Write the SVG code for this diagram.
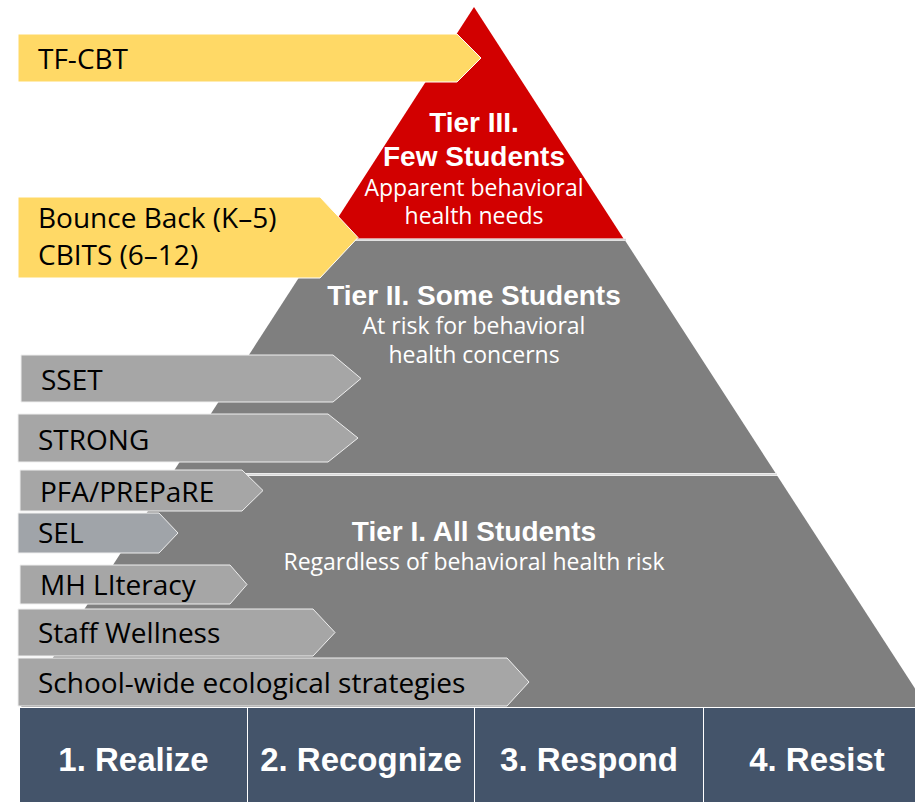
<svg xmlns="http://www.w3.org/2000/svg" width="915" height="802" viewBox="0 0 915 802">
<style>
.lbl{font-family:"Open Sans","Noto Sans",sans-serif;font-size:28px;fill:#000}
.ttl{font-family:"Liberation Sans",Arial,sans-serif;font-weight:bold;font-size:28px;fill:#fff;text-anchor:middle}
.sub{font-family:"Open Sans","Noto Sans",sans-serif;font-size:23px;fill:#fff;text-anchor:middle}
.bar{font-family:"Liberation Sans",Arial,sans-serif;font-weight:bold;font-size:33px;fill:#fff;text-anchor:middle}
.yel{fill:#FFD966;stroke:#FFFFFF;stroke-width:1}
.gry{fill:#A6A6A6;stroke:#EFEFEF;stroke-width:1}
.sel{fill:#A0A4A9;stroke:#EFEFEF;stroke-width:1}
.cell{fill:#44546A}
</style>
<rect width="915" height="802" fill="#FFFFFF"/>

<g id="tier1">
<polygon points="170.6,476 777.4,476 927,707 21,707" fill="#7F7F7F"/>
<text class="ttl" x="474" y="541">Tier I. All Students</text>
<text class="sub" x="474" y="570">Regardless of behavioral health risk</text>
</g>
<g id="tier2">
<polygon points="322.6,241 625.4,241 775.5,473 172.5,473" fill="#7F7F7F"/>
<text class="ttl" x="474" y="305">Tier II. Some Students</text>
<text class="sub" x="474" y="334">At risk for behavioral</text>
<text class="sub" x="474" y="363">health concerns</text>
</g>
<g id="tier3">
<polygon points="474,7 623.5,238.5 324.5,238.5" fill="#D20000"/>
<text class="ttl" x="474" y="132">Tier III.</text>
<text class="ttl" x="474" y="166">Few Students</text>
<text class="sub" x="474" y="196">Apparent behavioral</text>
<text class="sub" x="474" y="224">health needs</text>
</g>
<g id="separators">
<line x1="322" y1="239.8" x2="626" y2="239.8" stroke="#D9D9D9" stroke-width="2"/>
<line x1="171" y1="474.6" x2="777" y2="474.6" stroke="#D9D9D9" stroke-width="2"/>
</g>

<g id="connectors"></g>

<g id="tfcbt">
<polygon class="yel" points="18,34 457,34 481,58 457,82 18,82"/>
<text class="lbl" x="38" y="69">TF-CBT</text>
</g>
<g id="bounceback">
<polygon class="yel" points="18,197 320,197 358,237.5 320,278 18,278"/>
<text class="lbl" x="38" y="228">Bounce Back (K–5)</text>
<text class="lbl" x="38" y="265">CBITS (6–12)</text>
</g>
<g id="sset">
<polygon class="gry" points="21,355 333,355 361,378.5 333,402 21,402"/>
<text class="lbl" x="41" y="390">SSET</text>
</g>
<g id="strong">
<polygon class="gry" points="18,414 328,414 358,438 328,462 18,462"/>
<text class="lbl" x="38" y="450">STRONG</text>
</g>
<g id="pfa">
<polygon class="gry" points="20,470 242,470 263,490.5 242,511 20,511"/>
<text class="lbl" x="40" y="502">PFA/PREPaRE</text>
</g>
<g id="sel">
<polygon class="sel" points="18,513 159,513 178,533 159,553 18,553"/>
<text class="lbl" x="38" y="543">SEL</text>
</g>
<g id="mhliteracy">
<polygon class="gry" points="20,565 230,565 247,584.5 230,604 20,604"/>
<text class="lbl" x="40" y="595">MH LIteracy</text>
</g>
<g id="staffwellness">
<polygon class="gry" points="18,609 313,609 335,632.5 313,656 18,656"/>
<text class="lbl" x="38" y="643">Staff Wellness</text>
</g>
<g id="schoolwide">
<polygon class="gry" points="18,658 507,658 529,682 507,706 18,706"/>
<text class="lbl" x="38" y="693">School-wide ecological strategies</text>
</g>

<g id="realize">
<rect class="cell" x="20" y="708" width="227" height="94"/>
<text class="bar" x="133.5" y="771">1. Realize</text>
</g>
<g id="recognize">
<rect class="cell" x="248" y="708" width="226" height="94"/>
<text class="bar" x="361" y="771">2. Recognize</text>
</g>
<g id="respond">
<rect class="cell" x="475" y="708" width="228" height="94"/>
<text class="bar" x="589" y="771">3. Respond</text>
</g>
<g id="resist">
<rect class="cell" x="704" y="708" width="211" height="94"/>
<text class="bar" x="817" y="771">4. Resist</text>
</g>
</svg>
